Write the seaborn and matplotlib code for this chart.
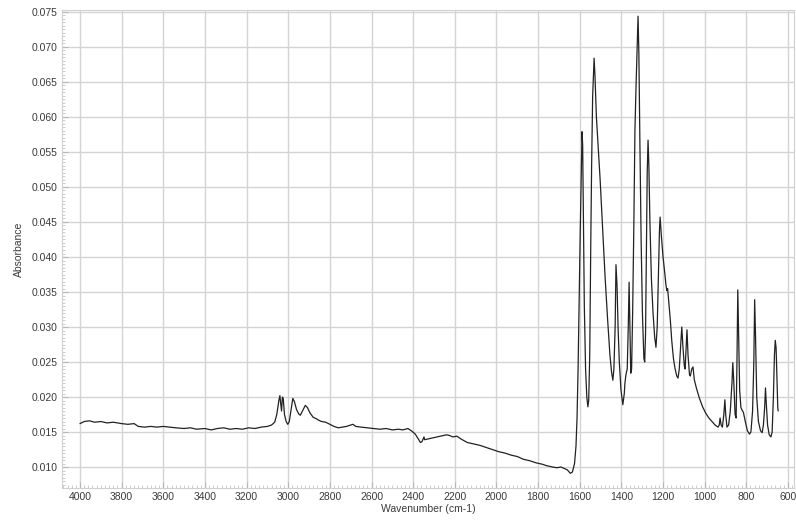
import matplotlib
matplotlib.use("Agg")
import matplotlib.pyplot as plt
import seaborn as sns
import pandas as pd
from matplotlib.ticker import MultipleLocator, FormatStrFormatter

sns.set_theme(style="white")
plt.rcParams['font.family'] = ['Liberation Sans', 'DejaVu Sans']

wavenumber = [
    4000, 3980, 3955, 3930, 3900, 3870, 3840, 3800, 3770, 3740, 3720, 3690, 3660, 3630, 3600,
    3570, 3540, 3500, 3470, 3440, 3400, 3370, 3340, 3310, 3280, 3250, 3220, 3190, 3160, 3130,
    3100, 3080, 3065, 3055, 3045, 3040, 3036, 3032, 3028, 3024, 3018, 3010, 3002, 2995, 2985,
    2978, 2970, 2960, 2950, 2942, 2930, 2918, 2908, 2895, 2880, 2865, 2855, 2840, 2820, 2800,
    2780, 2760, 2740, 2720, 2700, 2690, 2675, 2650, 2620, 2590, 2560, 2530, 2500, 2470, 2450,
    2425, 2405, 2390, 2375, 2365, 2358, 2352, 2348, 2345, 2330, 2300, 2270, 2240, 2225, 2210,
    2190, 2170, 2140, 2110, 2080, 2050, 2020, 1990, 1960, 1930, 1900, 1870, 1840, 1810, 1780,
    1760, 1745, 1730, 1710, 1690, 1675, 1660, 1645, 1635, 1625, 1618, 1613, 1608, 1603, 1598,
    1594, 1591, 1589, 1586, 1583, 1578, 1572, 1566, 1561, 1557, 1552, 1547, 1543, 1538, 1534,
    1531, 1527, 1520, 1512, 1502, 1490, 1478, 1466, 1455, 1447, 1441, 1436, 1430, 1426, 1421,
    1416, 1410, 1402, 1393, 1386, 1383, 1378, 1372, 1367, 1363, 1359, 1355, 1351, 1346, 1340,
    1335, 1330, 1324, 1320, 1316, 1311, 1305, 1299, 1292, 1288, 1284, 1280, 1276, 1272, 1268,
    1263, 1256, 1248, 1240, 1234, 1228, 1222, 1217, 1214, 1208, 1200, 1192, 1186, 1182, 1178,
    1172, 1165, 1158, 1150, 1142, 1134, 1128, 1122, 1116, 1110, 1104, 1098, 1094, 1089, 1085,
    1080, 1073, 1069, 1062, 1056, 1050, 1040, 1025, 1010, 995, 980, 965, 950, 936, 930,
    926, 921, 915, 908, 903, 899, 893, 885, 877, 869, 865, 860, 854, 849, 845,
    841, 837, 832, 826, 820, 814, 805, 795, 785, 778, 770, 764, 760, 756, 750,
    742, 732, 724, 718, 712, 708, 704, 698, 690, 682, 676, 670, 665, 661, 657,
    653, 649, 647,
]
absorbance = [
    0.0162, 0.0165, 0.0166, 0.0164, 0.0165, 0.0163, 0.0164, 0.0162, 0.0161, 0.0162, 0.0158, 0.0157, 0.0158, 0.0157, 0.0158,
    0.0157, 0.0156, 0.0155, 0.0156, 0.0154, 0.0155, 0.0153, 0.0155, 0.0156, 0.0154, 0.0155, 0.0154, 0.0156, 0.0155, 0.0157,
    0.0158, 0.0160, 0.0164, 0.0175, 0.0195, 0.0202, 0.0190, 0.0180, 0.0200, 0.0198, 0.0175, 0.0165, 0.0161, 0.0165, 0.0185,
    0.0198, 0.0193, 0.0182, 0.0176, 0.0174, 0.0181, 0.0188, 0.0185, 0.0177, 0.0171, 0.0169, 0.0167, 0.0165, 0.0164, 0.0161,
    0.0158, 0.0156, 0.0157, 0.0158, 0.0160, 0.0161, 0.0158, 0.0157, 0.0156, 0.0155, 0.0154, 0.0155, 0.0153, 0.0154, 0.0153,
    0.0155, 0.0151, 0.0147, 0.0140, 0.0135, 0.0136, 0.0140, 0.0143, 0.0139, 0.0140, 0.0142, 0.0144, 0.0146, 0.0145, 0.0143,
    0.0144, 0.0140, 0.0135, 0.0133, 0.0131, 0.0128, 0.0125, 0.0122, 0.0120, 0.0117, 0.0115, 0.0111, 0.0109, 0.0106, 0.0104,
    0.0102, 0.0101, 0.0100, 0.0099, 0.0100, 0.0098, 0.0096, 0.0091, 0.0093, 0.0105, 0.0130, 0.0170, 0.0240, 0.0340, 0.0430,
    0.0500, 0.0560, 0.0579, 0.0560, 0.0470, 0.0330, 0.0240, 0.0200, 0.0186, 0.0195, 0.0260, 0.0420, 0.0530, 0.0630, 0.0660,
    0.0684, 0.0660, 0.0600, 0.0560, 0.0510, 0.0440, 0.0370, 0.0310, 0.0260, 0.0235, 0.0224, 0.0240, 0.0300, 0.0389, 0.0360,
    0.0300, 0.0250, 0.0210, 0.0189, 0.0205, 0.0220, 0.0232, 0.0240, 0.0300, 0.0364, 0.0300, 0.0234, 0.0240, 0.0320, 0.0450,
    0.0580, 0.0640, 0.0700, 0.0744, 0.0690, 0.0560, 0.0420, 0.0320, 0.0255, 0.0250, 0.0290, 0.0400, 0.0520, 0.0567, 0.0530,
    0.0450, 0.0370, 0.0320, 0.0285, 0.0271, 0.0300, 0.0380, 0.0440, 0.0457, 0.0430, 0.0400, 0.0378, 0.0360, 0.0352, 0.0355,
    0.0335, 0.0310, 0.0280, 0.0255, 0.0240, 0.0230, 0.0227, 0.0240, 0.0270, 0.0300, 0.0270, 0.0245, 0.0240, 0.0270, 0.0296,
    0.0260, 0.0232, 0.0230, 0.0240, 0.0243, 0.0225, 0.0213, 0.0198, 0.0186, 0.0177, 0.0170, 0.0165, 0.0160, 0.0157, 0.0160,
    0.0170, 0.0160, 0.0157, 0.0175, 0.0196, 0.0175, 0.0157, 0.0160, 0.0180, 0.0220, 0.0249, 0.0220, 0.0175, 0.0170, 0.0250,
    0.0353, 0.0290, 0.0210, 0.0185, 0.0181, 0.0178, 0.0165, 0.0152, 0.0147, 0.0150, 0.0180, 0.0250, 0.0339, 0.0290, 0.0200,
    0.0165, 0.0152, 0.0149, 0.0160, 0.0185, 0.0213, 0.0190, 0.0160, 0.0146, 0.0143, 0.0150, 0.0200, 0.0260, 0.0281, 0.0270,
    0.0230, 0.0185, 0.0180,
]
x_ticks = [4000, 3800, 3600, 3400, 3200, 3000, 2800, 2600, 2400, 2200, 2000, 1800, 1600, 1400, 1200, 1000, 800, 600]
y_ticks = [0.010, 0.015, 0.020, 0.025, 0.030, 0.035, 0.040, 0.045, 0.050, 0.055, 0.060, 0.065, 0.070, 0.075]

df = pd.DataFrame({"Wavenumber": wavenumber, "Absorbance": absorbance})

fig = plt.figure(figsize=(7.96, 5.20), dpi=100)
ax = fig.add_axes([0.078, 0.0615, 0.9195, 0.9195])

sns.lineplot(data=df, x="Wavenumber", y="Absorbance", ax=ax, color="#222222",
             linewidth=0.9, sort=False, estimator=None)

ax.set_xlim(4086, 571)
ax.set_ylim(0.0070, 0.0753)
ax.set_xticks(x_ticks)
ax.set_yticks(y_ticks)
ax.xaxis.set_minor_locator(MultipleLocator(20))
ax.yaxis.set_minor_locator(MultipleLocator(0.0005))
ax.yaxis.set_major_formatter(FormatStrFormatter('%.3f'))

ax.grid(True, which='major', color='#d4d4d4', linewidth=1.0)
ax.set_axisbelow(True)
for s in ax.spines.values():
    s.set_color('#d0d0d0')
    s.set_linewidth(0.8)

ax.tick_params(axis='both', which='both', bottom=True, left=True, top=False, right=False)
ax.tick_params(axis='both', which='major', labelsize=7.5, colors='#b8b8b8',
               labelcolor='#3a3a3a', length=4, width=0.8, direction='in', pad=3)
ax.tick_params(axis='both', which='minor', colors='#c4c4c4', length=2.5, width=0.6,
               direction='in')

ax.set_xlabel("Wavenumber (cm-1)", fontsize=7.5, color='#3a3a3a', labelpad=1)
ax.set_ylabel("Absorbance", fontsize=7.5, color='#3a3a3a', labelpad=6)

fig.savefig("out.png", dpi=100, facecolor='white')
